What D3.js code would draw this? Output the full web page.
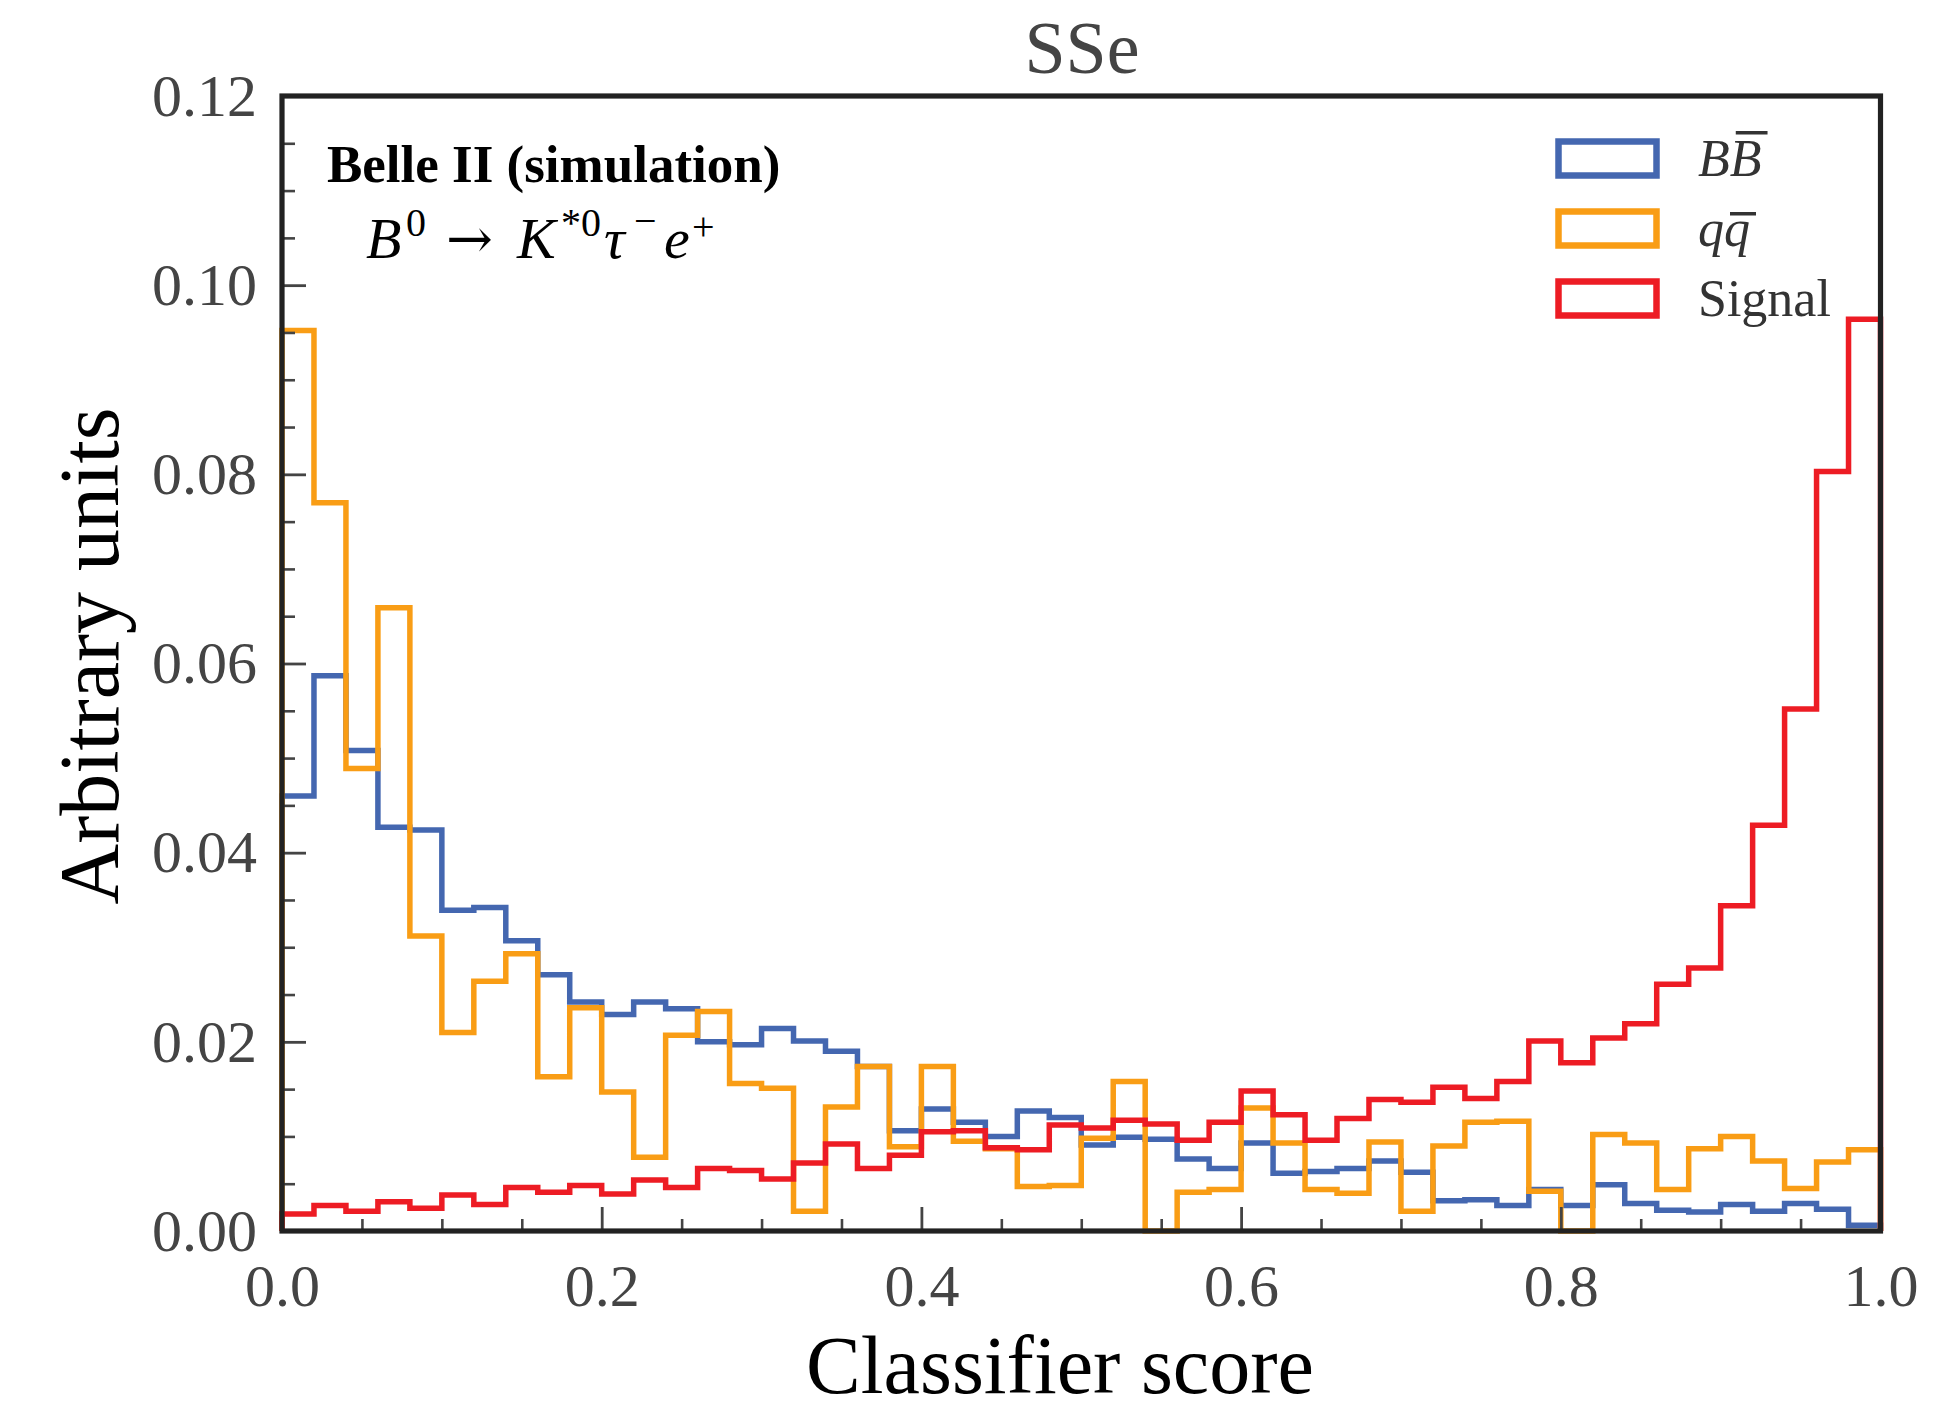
<!DOCTYPE html>
<html>
<head>
<meta charset="utf-8">
<script src="https://cdn.jsdelivr.net/npm/d3@7"></script>
<style>
  html, body { margin: 0; padding: 0; background: #fff; }
  svg { display: block; }
</style>
</head>
<body>
<svg id="chart" width="1957" height="1412"></svg>
<script>
// Classifier-score histograms, 50 bins of width 0.02 on [0, 1]
const binEdges = d3.range(0, 51).map(i => +(i * 0.02).toFixed(2));

const bbbar = [0.0460, 0.0587, 0.0508, 0.0427, 0.0424, 0.0339, 0.0342, 0.0307, 0.0271, 0.0242,
               0.0229, 0.0242, 0.0235, 0.0200, 0.0197, 0.0214, 0.0201, 0.0190, 0.0174, 0.0106,
               0.0129, 0.0115, 0.0100, 0.0127, 0.0120, 0.0091, 0.0099, 0.0097, 0.0076, 0.0066,
               0.0093, 0.0061, 0.0063, 0.0066, 0.0074, 0.0062, 0.0032, 0.0033, 0.0027, 0.0044,
               0.0027, 0.0049, 0.0029, 0.0022, 0.0020, 0.0028, 0.0021, 0.0029, 0.0023, 0.0006];

const qqbar = [0.0952, 0.0770, 0.0489, 0.0659, 0.0312, 0.0210, 0.0264, 0.0293, 0.0163, 0.0236,
               0.0147, 0.0078, 0.0207, 0.0232, 0.0156, 0.0151, 0.0021, 0.0131, 0.0174, 0.0089,
               0.0174, 0.0095, 0.0087, 0.0047, 0.0048, 0.0098, 0.0158, 0.0000, 0.0041, 0.0044,
               0.0130, 0.0093, 0.0044, 0.0040, 0.0094, 0.0021, 0.0090, 0.0115, 0.0116, 0.0042,
               0.0000, 0.0102, 0.0093, 0.0044, 0.0087, 0.0100, 0.0074, 0.0045, 0.0073, 0.0086];

const signal = [0.0018, 0.0027, 0.0021, 0.0031, 0.0024, 0.0038, 0.0028, 0.0046, 0.0041, 0.0048,
                0.0039, 0.0054, 0.0046, 0.0066, 0.0064, 0.0055, 0.0072, 0.0092, 0.0066, 0.0080,
                0.0105, 0.0106, 0.0088, 0.0086, 0.0112, 0.0109, 0.0117, 0.0113, 0.0096, 0.0115,
                0.0148, 0.0123, 0.0096, 0.0119, 0.0139, 0.0136, 0.0152, 0.0140, 0.0158, 0.0201,
                0.0178, 0.0204, 0.0219, 0.0261, 0.0278, 0.0344, 0.0429, 0.0552, 0.0803, 0.0964];

const xTickValues = [0.0, 0.2, 0.4, 0.6, 0.8, 1.0];
const xTickLabels = ["0.0", "0.2", "0.4", "0.6", "0.8", "1.0"];
const xMinorTicks = [0.05, 0.10, 0.15, 0.25, 0.30, 0.35, 0.45, 0.50, 0.55, 0.65, 0.70, 0.75, 0.85, 0.90, 0.95];
const yTickValues = [0.00, 0.02, 0.04, 0.06, 0.08, 0.10, 0.12];
const yTickLabels = ["0.00", "0.02", "0.04", "0.06", "0.08", "0.10", "0.12"];
const yMinorTicks = [0.005, 0.010, 0.015, 0.025, 0.030, 0.035, 0.045, 0.050, 0.055, 0.065, 0.070, 0.075,
                     0.085, 0.090, 0.095, 0.105, 0.110, 0.115];

const seriesColors = ["#4467b0", "#f99d15", "#ed1c24"];

// ---- layout ----
const W = 1957, H = 1412;
const plot = { left: 282, right: 1880.5, top: 96, bottom: 1231 };
const serif = "'Liberation Serif', 'Times New Roman', 'DejaVu Serif', serif";
const tickColor = "#444";

const svg = d3.select("#chart");
svg.append("rect").attr("width", W).attr("height", H).attr("fill", "#fff");

const x = d3.scaleLinear().domain([0, 1]).range([plot.left, plot.right]);
const y = d3.scaleLinear().domain([0, 0.12]).range([plot.bottom, plot.top]);

// ---- step outlines ----
function stepPoints(values) {
  const pts = [[binEdges[0], 0]];
  values.forEach((v, i) => {
    pts.push([binEdges[i], v]);
    pts.push([binEdges[i + 1], v]);
  });
  pts.push([binEdges[binEdges.length - 1], 0]);
  return pts;
}
const line = d3.line().x(d => x(d[0])).y(d => y(d[1]));

const series = [bbbar, qqbar, signal];
const gHist = svg.append("g");
series.forEach((vals, k) => {
  gHist.append("path")
    .attr("d", line(stepPoints(vals)))
    .attr("fill", "none")
    .attr("stroke", seriesColors[k])
    .attr("stroke-width", 5.5)
    .attr("stroke-linejoin", "miter")
    .attr("stroke-linecap", "butt");
});

// ---- axes (inward ticks) ----
function styleAxis(g, width) {
  g.select(".domain").remove();
  g.selectAll(".tick line").attr("stroke", tickColor).attr("stroke-width", width);
  g.selectAll(".tick text")
    .attr("fill", tickColor)
    .style("font-family", serif)
    .style("font-size", "60px");
}

const xAxis = svg.append("g").attr("transform", `translate(0,${plot.bottom})`)
  .call(d3.axisBottom(x).tickValues(xTickValues)
    .tickFormat((d, i) => xTickLabels[i]).tickSize(-24).tickPadding(32));
styleAxis(xAxis, 2.8);

svg.append("g").attr("transform", `translate(0,${plot.bottom})`)
  .call(d3.axisBottom(x).tickValues(xMinorTicks).tickFormat("").tickSize(-12))
  .call(g => styleAxis(g, 2.6));

const yAxis = svg.append("g").attr("transform", `translate(${plot.left},0)`)
  .call(d3.axisLeft(y).tickValues(yTickValues)
    .tickFormat((d, i) => yTickLabels[i]).tickSize(-24).tickPadding(25));
styleAxis(yAxis, 2.8);

svg.append("g").attr("transform", `translate(${plot.left},0)`)
  .call(d3.axisLeft(y).tickValues(yMinorTicks).tickFormat("").tickSize(-13))
  .call(g => styleAxis(g, 2.6));

// ---- frame ----
svg.append("rect")
  .attr("x", plot.left).attr("y", plot.top)
  .attr("width", plot.right - plot.left).attr("height", plot.bottom - plot.top)
  .attr("fill", "none").attr("stroke", "#222").attr("stroke-width", 5.2);

// ---- titles ----
svg.append("text")
  .attr("x", 1082).attr("y", 73)
  .attr("text-anchor", "middle")
  .attr("fill", "#444")
  .style("font-family", serif).style("font-size", "74px")
  .text("SSe");

svg.append("text")
  .attr("x", 1060).attr("y", 1393)
  .attr("text-anchor", "middle")
  .attr("fill", "#000")
  .style("font-family", serif).style("font-size", "82px")
  .text("Classifier score");

svg.append("text")
  .attr("transform", "translate(118,656) rotate(-90)")
  .attr("text-anchor", "middle")
  .attr("fill", "#000")
  .style("font-family", serif).style("font-size", "84px")
  .text("Arbitrary units");

// ---- experiment / decay annotation ----
svg.append("text")
  .attr("x", 327).attr("y", 182)
  .attr("fill", "#000")
  .style("font-family", serif).style("font-size", "53px").style("font-weight", "bold")
  .text("Belle II (simulation)");

const decay = svg.append("text")
  .attr("fill", "#000")
  .style("font-family", serif).style("font-size", "58px");
const decayParts = [
  { t: "B",  x: 366, y: 258, it: true,  fs: 58 },
  { t: "0",  x: 406, y: 236, it: false, fs: 40 },
  { t: "\u2192", x: 446, y: 258, it: false, fs: 56, fam: "'DejaVu Serif', serif" },
  { t: "K",  x: 517, y: 258, it: true,  fs: 58 },
  { t: "*0", x: 561, y: 236, it: false, fs: 40 },
  { t: "\u03c4", x: 604, y: 258, it: true,  fs: 58 },
  { t: "\u2212", x: 634, y: 234, it: false, fs: 40 },
  { t: "e",  x: 664, y: 258, it: true,  fs: 58 },
  { t: "+",  x: 692, y: 240, it: false, fs: 40 }
];
decayParts.forEach(p => {
  const ts = decay.append("tspan")
    .attr("x", p.x).attr("y", p.y)
    .style("font-style", p.it ? "italic" : "normal")
    .style("font-size", p.fs + "px")
    .text(p.t);
  if (p.fam) ts.style("font-family", p.fam);
});

// ---- legend ----
const legend = svg.append("g");
const legendRows = [
  { first: "B", second: "B", italic: true,  bar: 0.83 },
  { first: "q", second: "q", italic: true,  bar: 0.62 },
  { first: "Signal", second: "", italic: false, bar: 0 }
];
legendRows.forEach((row, k) => {
  const top = 141.5 + k * 70;
  legend.append("rect")
    .attr("x", 1558.5).attr("y", top)
    .attr("width", 98).attr("height", 34)
    .attr("fill", "none")
    .attr("stroke", seriesColors[k])
    .attr("stroke-width", 6.5);

  const baseline = top + 34.5;
  const t = legend.append("text")
    .attr("x", 1698).attr("y", baseline)
    .attr("fill", "#333")
    .style("font-family", serif).style("font-size", "52px")
    .style("font-style", row.italic ? "italic" : "normal");
  t.append("tspan").text(row.first);
  if (row.second) {
    t.append("tspan").text(row.second);
    const ext = t.node().getExtentOfChar(row.first.length);
    legend.append("line")
      .attr("x1", ext.x + 6).attr("x2", ext.x + ext.width + 6)
      .attr("y1", baseline - row.bar * 52).attr("y2", baseline - row.bar * 52)
      .attr("stroke", "#333").attr("stroke-width", 3.5);
  }
});
</script>
</body>
</html>
